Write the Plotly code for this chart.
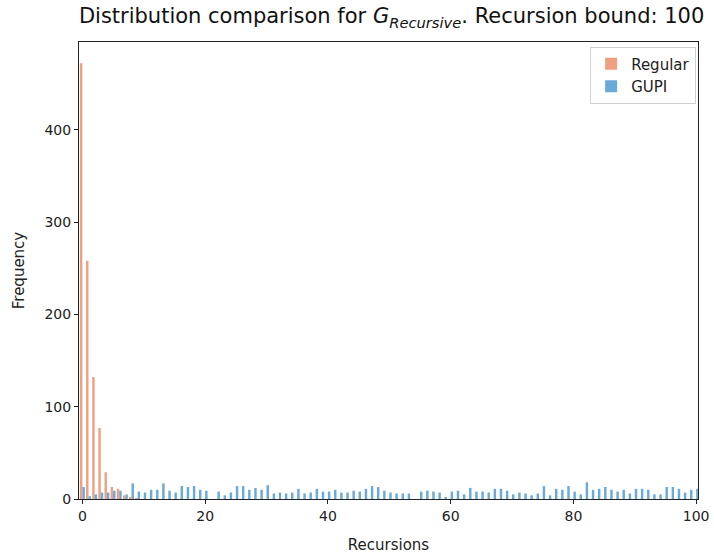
import plotly.graph_objects as go

recursions = list(range(0, 101))

regular = [472, 258, 132, 77, 29, 13, 11, 4, 2, 1] + [0] * 91

gupi = [
    13, 3, 5, 7, 7, 9, 9, 5, 17, 8,      # 0-9
    7, 10, 10, 17, 9, 7, 14, 13, 14, 10,  # 10-19
    9, 0, 8, 4, 7, 14, 14, 10, 12, 10,    # 20-29
    15, 6, 7, 6, 7, 11, 6, 7, 11, 8,      # 30-39
    8, 10, 7, 7, 9, 8, 11, 14, 13, 9,     # 40-49
    7, 6, 6, 6, 0, 8, 9, 8, 7, 2,         # 50-59
    8, 9, 5, 12, 8, 8, 7, 11, 11, 9,      # 60-69
    5, 7, 6, 4, 6, 14, 4, 11, 10, 14,     # 70-79
    8, 5, 18, 10, 11, 13, 10, 8, 10, 6,   # 80-89
    11, 11, 10, 5, 5, 13, 13, 11, 7, 10,  # 90-99
    11,                                   # 100
]

x_ticks = [0, 20, 40, 60, 80, 100]
y_ticks = [0, 100, 200, 300, 400]

ORANGE = "#F0A080"
BLUE = "#6AAAD8"
FONT = "DejaVu Sans"

fig = go.Figure()
fig.add_trace(go.Bar(x=recursions, y=regular, name="Regular",
                     marker=dict(color=ORANGE, line=dict(width=0))))
fig.add_trace(go.Bar(x=recursions, y=gupi, name="GUPI",
                     marker=dict(color=BLUE, line=dict(width=0))))

axis_common = dict(
    showline=True, linecolor="#222222", linewidth=1, mirror=True,
    ticks="outside", ticklen=4, tickcolor="#222222", tickwidth=1,
    showgrid=False, zeroline=False, automargin=False,
    tickfont=dict(family=FONT, size=14, color="#222222"),
)

fig.update_layout(
    width=714, height=554,
    margin=dict(l=79, r=16, t=42, b=55),
    paper_bgcolor="white", plot_bgcolor="white",
    barmode="group", bargap=0.2, bargroupgap=0,
    font=dict(family=FONT, size=14, color="#222222"),
    title=dict(
        text="Distribution comparison for <i>G</i><sub><i>Recursive</i></sub>. Recursion bound: 100",
        x=0.505, xanchor="center", xref="paper", y=0.971, yanchor="middle",
        font=dict(family=FONT, size=21, color="#111111"),
    ),
    xaxis=dict(range=[-0.55, 100.3], tickvals=x_ticks,
               title=dict(text="Recursions", standoff=17,
                          font=dict(family=FONT, size=15)),
               **axis_common),
    yaxis=dict(range=[0, 495], tickvals=y_ticks,
               title=dict(text="Frequency", standoff=16,
                          font=dict(family=FONT, size=15)),
               **axis_common),
    legend=dict(x=0.997, y=0.99, xanchor="right", yanchor="top",
                bgcolor="rgba(255,255,255,0.8)", bordercolor="#D0D0D0",
                borderwidth=1, font=dict(family=FONT, size=15),
                itemwidth=30, tracegroupgap=2),
    showlegend=True,
)

fig.write_html("out.html")
